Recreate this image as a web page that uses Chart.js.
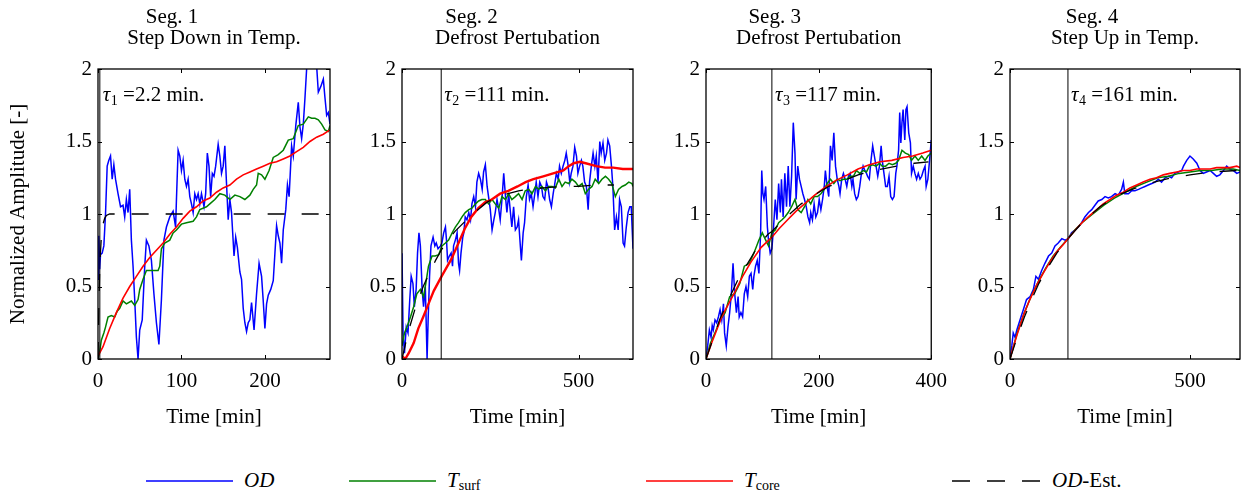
<!DOCTYPE html>
<html>
<head>
<meta charset="utf-8">
<script src="https://cdn.jsdelivr.net/npm/chart.js@4.4.0/dist/chart.umd.min.js"></script>
<style>
html,body{margin:0;padding:0;background:#fff;}
body{width:1247px;height:491px;position:relative;overflow:hidden;font-family:"Liberation Serif","Times New Roman",serif;color:#000;}
.pane{position:absolute;top:0;}
.pane canvas{display:block;}
.lg{position:absolute;top:468px;font-size:21px;line-height:24px;white-space:nowrap;}
.lg i{font-style:italic;}
.lg sub{font-size:14px;vertical-align:-3px;line-height:0;}
</style>
</head>
<body>
<div class="pane" id="p0"><canvas id="c0"></canvas></div>
<div class="pane" id="p1"><canvas id="c1"></canvas></div>
<div class="pane" id="p2"><canvas id="c2"></canvas></div>
<div class="pane" id="p3"><canvas id="c3"></canvas></div>

<svg width="1247" height="30" style="position:absolute;left:0;top:466px">
  <line x1="146" y1="15" x2="233" y2="15" stroke="#0000ff" stroke-width="1.5"/>
  <line x1="349" y1="15" x2="436" y2="15" stroke="#008000" stroke-width="1.5"/>
  <line x1="646" y1="15" x2="733" y2="15" stroke="#ff0000" stroke-width="1.5"/>
  <line x1="952" y1="15" x2="1040" y2="15" stroke="#000" stroke-width="1.3" stroke-dasharray="18 17"/>
</svg>
<div class="lg" style="left:244px"><i>OD</i></div>
<div class="lg" style="left:447px"><i>T</i><sub>surf</sub></div>
<div class="lg" style="left:744px"><i>T</i><sub>core</sub></div>
<div class="lg" style="left:1052px"><i>OD</i>-Est.</div>

<script>
// ---------------- DATA ----------------
// Segment 1 : Step Down in Temp.
const seg1_tOD = [0,1,2,3,5,7,9,11,13,15,17,19,21,24,27,30,32,34,36,38,40,42,44,46,48,50,53,56,58,61,64,67,70,73,76,79,82,86,90,93,94,96,98,100,102,104,106,108,110,112,114,116,118,120,122,124,127,129,131,133,135,137,139,141,144,146,148,150,152,154,156,158,160,163,165,167,170,172,174,176,178,180,182,184,187,190,193,196,198,200,202,204,207,210,212,214,216,218,220,222,225,227,229,232,234,237,240,242,244,246,248,250,252,256,260,262,264,267,270,272,274,276,278];
const seg1_OD = [0.55,0.85,0.62,0.72,0.73,0.78,1.0,1.33,1.37,1.40,1.24,1.34,1.24,1.14,1.05,1.06,0.98,1.10,1.01,1.17,0.82,0.64,0.41,0.15,0.0,0.2,0.27,0.64,0.82,0.78,0.68,0.45,0.25,0.10,0.41,0.82,0.91,0.98,1.02,0.91,1.10,1.44,1.40,1.30,1.37,1.24,1.19,1.24,1.12,1.07,1.01,1.14,1.10,1.14,1.07,1.14,1.05,1.14,1.42,1.33,1.12,1.28,1.26,1.33,1.48,1.40,1.28,1.33,1.47,1.21,0.96,1.10,1.01,0.71,0.84,0.77,0.60,0.55,0.35,0.25,0.19,0.25,0.27,0.39,0.20,0.45,0.66,0.57,0.40,0.21,0.38,0.44,0.48,0.54,0.73,0.92,0.85,0.80,0.66,0.89,1.03,1.20,1.12,1.47,1.40,1.61,1.77,1.60,1.52,1.62,1.80,2.0,2.05,2.08,2.04,2.02,1.84,1.88,1.93,1.80,1.68,1.70,1.62];
const seg1_tSurf = [0,2,4,7,9,12,16,20,23,26,30,34,40,44,48,50,54,58,66,72,74,76,80,86,90,94,100,106,114,118,122,130,134,140,146,152,158,164,170,176,182,186,190,192,196,200,205,210,216,222,228,234,240,246,252,256,260,264,268,272,276,278];
const seg1_Tsurf = [0,0.05,0.13,0.18,0.22,0.29,0.30,0.29,0.33,0.35,0.40,0.38,0.40,0.37,0.41,0.48,0.55,0.61,0.61,0.61,0.64,0.76,0.80,0.82,0.87,0.89,0.93,0.94,0.95,0.98,1.03,1.05,1.07,1.10,1.14,1.13,1.10,1.13,1.12,1.10,1.13,1.17,1.20,1.28,1.27,1.24,1.30,1.39,1.41,1.44,1.51,1.52,1.61,1.62,1.67,1.66,1.66,1.65,1.62,1.58,1.57,1.61];
const seg1_tCore = [0,6,14,22,30,38,46,54,62,70,78,86,94,102,110,118,126,134,142,150,158,166,174,182,190,198,206,214,222,230,238,246,254,262,270,278];
const seg1_Tcore = [0.02,0.085,0.21,0.32,0.42,0.50,0.57,0.64,0.70,0.75,0.80,0.86,0.91,0.97,1.02,1.05,1.09,1.11,1.15,1.18,1.20,1.24,1.27,1.29,1.31,1.33,1.35,1.36,1.38,1.40,1.43,1.46,1.50,1.53,1.55,1.58];
const seg1_tEst = [0,1,2,3,4,6,8,10,14,278];
const seg1_Est = [0,0.35,0.60,0.74,0.84,0.93,0.97,0.99,1.0,1.0];

// Segment 2 : Defrost Pertubation
const seg2_tOD = [0,3,7,12,17,22,26,31,35,40,44,48,52,57,61,66,71,74,78,82,88,93,97,102,109,113,118,123,126,129,134,139,143,146,151,156,160,163,167,172,175,179,184,189,194,198,203,208,212,217,222,227,231,236,241,245,250,255,260,264,269,274,278,283,288,293,297,302,307,311,316,321,326,330,335,338,343,347,352,357,361,366,371,376,380,385,390,395,399,404,409,413,418,423,428,432,437,442,446,451,456,461,465,470,475,479,484,489,494,498,503,508,512,517,522,527,531,536,541,546,550,555,560,564,569,574,579,583,588,593,597,602,607,612,616,621,626,630,635,640,645,649,654];
const seg2_OD = [0.73,0.18,0.04,0.22,0.18,0.41,0.57,0.52,0.36,0.48,0.73,0.87,0.78,0.48,0.36,0.50,0.0,0.27,0.57,0.78,0.84,0.78,0.80,0.76,0.78,0.80,0.87,0.91,0.82,0.68,0.71,0.73,0.64,0.78,0.82,0.87,0.66,0.61,0.73,0.84,0.87,0.98,0.96,1.01,0.96,1.07,1.12,1.05,1.22,1.28,1.24,1.17,1.29,1.34,1.19,1.12,1.03,0.89,0.96,1.01,1.10,1.03,0.96,1.10,1.28,1.12,1.01,1.14,1.01,0.91,1.05,0.89,0.91,0.96,0.78,0.68,0.87,0.94,1.12,1.20,1.10,1.14,1.05,1.14,1.22,1.12,1.22,1.19,1.12,1.10,1.22,1.19,1.10,1.05,1.14,1.20,1.28,1.24,1.33,1.28,1.33,1.37,1.42,1.34,1.22,1.28,1.33,1.46,1.40,1.28,1.33,1.37,1.33,1.22,1.19,1.03,1.22,1.33,1.42,1.33,1.40,1.22,1.50,1.42,1.49,1.37,1.42,1.51,1.47,1.33,1.19,0.89,0.98,0.89,1.10,1.05,0.80,0.78,0.91,1.01,1.05,1.05,0.76];
const seg2_tSurf = [0,7,14,24,33,42,52,61,66,75,85,94,104,113,123,132,142,151,160,170,179,189,198,208,217,226,236,245,255,264,274,283,293,302,311,321,330,340,349,359,368,378,387,396,406,415,425,434,444,453,462,472,481,491,500,510,519,528,538,547,557,566,576,585,594,604,613,623,632,642,651,654];
const seg2_Tsurf = [0.09,0.18,0.22,0.29,0.36,0.45,0.48,0.43,0.50,0.64,0.71,0.71,0.72,0.78,0.80,0.82,0.87,0.91,0.94,0.98,1.01,1.03,1.04,1.07,1.09,1.10,1.10,1.07,1.10,1.07,1.04,1.12,1.10,1.14,1.10,1.12,1.14,1.10,1.16,1.17,1.14,1.19,1.17,1.19,1.16,1.19,1.19,1.18,1.24,1.19,1.22,1.21,1.24,1.22,1.19,1.21,1.14,1.17,1.19,1.24,1.21,1.24,1.26,1.24,1.21,1.12,1.17,1.19,1.20,1.22,1.21,1.19];
const seg2_tCore = [0,9,19,33,46,60,75,90,112,126,140,160,178,196,216,235,254,278,301,327,350,372,400,428,457,472,486,504,520,550,575,598,625,654];
const seg2_Tcore = [0.02,0.0,0.04,0.11,0.21,0.29,0.38,0.47,0.57,0.63,0.69,0.80,0.90,0.98,1.04,1.08,1.10,1.14,1.16,1.19,1.22,1.24,1.26,1.28,1.30,1.33,1.35,1.36,1.35,1.33,1.32,1.32,1.31,1.31];
const seg2_tEst = [0,18,40,60,75,95,111,130,150,183,210,240,270,300,330,360,400,450,500,550,600];
const seg2_Est = [0,0.19,0.37,0.50,0.58,0.68,0.75,0.82,0.88,0.96,1.02,1.08,1.12,1.14,1.16,1.17,1.18,1.19,1.19,1.20,1.20];

// Segment 3 : Defrost Pertubation
const seg3_tOD = [0,3,6,9,11,13,16,19,22,25,28,31,33,36,39,42,45,48,51,54,57,59,62,65,68,71,74,77,80,83,85,88,91,94,97,99,101,103,106,109,111,114,117,120,123,126,129,132,134,137,140,143,146,149,152,155,158,160,163,166,169,172,175,178,181,184,186,189,192,195,198,201,204,207,210,212,215,218,221,224,227,230,233,236,238,241,244,247,250,253,256,259,261,264,267,270,273,276,279,282,285,287,290,293,296,299,302,305,308,311,313,316,319,322,325,328,331,334,337,339,342,344,346,348,350,353,355,357,360,363,365,368,371,374,377,380,383,386,389,391,394,397,400];
const seg3_OD = [0,0.09,0.20,0.15,0.23,0.20,0.27,0.25,0.29,0.34,0.27,0.38,0.18,0.09,0.22,0.32,0.45,0.66,0.45,0.32,0.43,0.29,0.32,0.29,0.45,0.50,0.43,0.57,0.59,0.48,0.57,0.64,0.68,0.59,0.87,1.30,1.14,1.10,1.19,0.91,0.82,0.73,0.76,0.91,1.10,0.96,1.21,1.01,1.24,0.98,1.28,1.05,1.33,1.05,1.26,1.63,1.42,1.10,1.33,1.24,1.19,1.14,1.10,1.05,0.98,0.94,1.01,0.96,1.07,0.98,1.01,1.10,1.03,1.10,1.19,1.30,1.19,1.12,1.47,1.37,1.56,1.33,1.24,1.19,1.14,1.24,1.28,1.24,1.19,1.26,1.28,1.19,1.24,1.14,1.10,1.12,1.19,1.28,1.33,1.30,1.28,1.26,1.24,1.37,1.47,1.40,1.33,1.26,1.33,1.47,1.37,1.28,1.19,1.19,1.26,1.12,1.10,1.12,1.28,1.33,1.44,1.70,1.49,1.63,1.72,1.51,1.72,1.74,1.56,1.49,1.28,1.33,1.28,1.24,1.28,1.24,1.26,1.30,1.33,1.19,1.24,1.37,1.51];
const seg3_tSurf = [0,8,16,25,34,42,51,60,68,77,85,94,100,106,111,117,123,129,135,140,146,152,158,163,169,175,181,186,192,198,204,210,215,221,227,233,238,244,250,256,262,267,273,279,285,290,296,302,308,313,319,325,331,337,342,348,354,360,365,371,377,383,389,394,400];
const seg3_Tsurf = [0,0.11,0.18,0.27,0.32,0.43,0.45,0.52,0.64,0.66,0.73,0.82,0.87,0.82,0.78,0.87,0.89,0.94,0.96,0.98,1.01,1.05,1.10,1.03,1.01,1.05,1.10,1.07,1.12,1.12,1.14,1.17,1.21,1.24,1.21,1.24,1.23,1.24,1.24,1.26,1.26,1.30,1.28,1.30,1.29,1.33,1.34,1.33,1.35,1.33,1.33,1.35,1.34,1.35,1.37,1.44,1.42,1.41,1.37,1.40,1.37,1.40,1.37,1.40,1.42];
const seg3_tCore = [0,10,20,28,40,51,65,80,98,117,130,145,160,175,193,210,230,251,270,290,309,330,350,367,385,400];
const seg3_Tcore = [0,0.11,0.21,0.29,0.38,0.46,0.57,0.67,0.77,0.84,0.90,0.96,1.02,1.07,1.13,1.18,1.23,1.27,1.31,1.34,1.36,1.37,1.39,1.40,1.42,1.44];
const seg3_tEst = [0,25,45,57,74,91,110,117,140,169,192,218,245,270,300,325,350,370,395];
const seg3_Est = [0,0.28,0.45,0.55,0.66,0.77,0.86,0.88,0.97,1.07,1.13,1.19,1.23,1.27,1.30,1.32,1.34,1.35,1.36];

// Segment 4 : Step Up in Temp.
const seg4_tOD = [0,5,9,14,19,28,37,46,56,65,72,79,88,97,107,116,125,134,144,153,162,171,181,190,199,208,218,227,236,245,255,264,273,282,292,301,310,315,319,329,338,347,357,366,375,384,394,403,412,421,431,440,449,458,468,477,482,491,500,509,519,528,537,546,556,565,574,583,593,602,611,620,630,639];
const seg4_OD = [0,0.09,0.18,0.15,0.20,0.27,0.34,0.41,0.43,0.48,0.57,0.55,0.61,0.66,0.71,0.73,0.78,0.80,0.83,0.82,0.83,0.87,0.89,0.91,0.94,0.98,1.01,1.03,1.06,1.09,1.10,1.12,1.11,1.12,1.14,1.13,1.17,1.22,1.14,1.14,1.16,1.16,1.17,1.18,1.19,1.20,1.21,1.22,1.24,1.22,1.25,1.26,1.25,1.28,1.29,1.30,1.33,1.37,1.40,1.38,1.35,1.30,1.28,1.29,1.30,1.28,1.26,1.27,1.30,1.33,1.31,1.30,1.28,1.29];
const seg4_tSurf = [0,20,40,60,80,100,120,140,161,180,200,230,260,290,320,350,380,410,440,470,500,530,560,590,620,639];
const seg4_Tsurf = [0,0.18,0.32,0.44,0.54,0.63,0.71,0.77,0.83,0.89,0.94,1.00,1.06,1.11,1.15,1.19,1.22,1.25,1.26,1.28,1.29,1.30,1.30,1.31,1.31,1.30];
const seg4_tCore = [0,10,20,37,55,74,92,111,130,148,161,185,204,222,241,259,278,296,315,333,352,370,389,407,426,444,463,481,500,519,537,556,574,593,611,630,639];
const seg4_Tcore = [0,0.09,0.17,0.30,0.41,0.51,0.59,0.67,0.74,0.79,0.83,0.90,0.95,0.99,1.03,1.07,1.10,1.13,1.15,1.18,1.20,1.22,1.24,1.25,1.27,1.28,1.29,1.30,1.30,1.31,1.31,1.31,1.32,1.32,1.32,1.33,1.32];
const seg4_tEst = [0,20,40,60,80,100,130,161,200,250,300,350,400,450,500,560,630];
const seg4_Est = [0,0.15,0.29,0.41,0.52,0.61,0.73,0.83,0.94,1.05,1.13,1.18,1.22,1.25,1.27,1.29,1.30];

// Time constants, axis ranges, ticks, titles
const tauValues = [2.2, 111, 117, 161];
const tauLabels = ['=2.2 min.', '=111 min.', '=117 min.', '=161 min.'];
const xMax = [278, 654, 400, 639];
const xTickValues = [[0,100,200],[0,500],[0,200,400],[0,500]];
const xTickLabels = [['0','100','200'],['0','500'],['0','200','400'],['0','500']];
const yTickValues = [0, 0.5, 1, 1.5, 2];
const yTickLabels = ['0', '0.5', '1', '1.5', '2'];
const segNames = ['Seg. 1', 'Seg. 2', 'Seg. 3', 'Seg. 4'];
const segTitles = ['Step Down in Temp.', 'Defrost Pertubation', 'Defrost Pertubation', 'Step Up in Temp.'];
const yAxisTitle = 'Normalized Amplitude [-]';
const xAxisTitle = 'Time [min]';

// ---------------- LAYOUT / STYLE ----------------
const plotLeft = [98, 402, 706, 1010];
const plotRight = [330, 633, 937, 1240];
const yAxisW = [98, 75, 75, 75];
const padRight = [20, 20, 20, 7];
const segShift = [-42, -46, -44, -33];
const CANVAS_H = 440, PLOT_TOP = 69, PLOT_BOTTOM = 359;
const FONT = '"Liberation Serif", "Times New Roman", serif';

const seriesByPanel = [
  [seg1_tOD, seg1_OD, seg1_tSurf, seg1_Tsurf, seg1_tCore, seg1_Tcore, seg1_tEst, seg1_Est],
  [seg2_tOD, seg2_OD, seg2_tSurf, seg2_Tsurf, seg2_tCore, seg2_Tcore, seg2_tEst, seg2_Est],
  [seg3_tOD, seg3_OD, seg3_tSurf, seg3_Tsurf, seg3_tCore, seg3_Tcore, seg3_tEst, seg3_Est],
  [seg4_tOD, seg4_OD, seg4_tSurf, seg4_Tsurf, seg4_tCore, seg4_Tcore, seg4_tEst, seg4_Est]
];

function zip(xs, ys) {
  const n = Math.min(xs.length, ys.length);
  const out = [];
  for (let i = 0; i < n; i++) out.push({x: xs[i], y: ys[i]});
  return out;
}

const decorPlugin = {
  id: 'segDecor',
  afterDatasetsDraw(chart, args, o) {
    const {ctx, chartArea: a, scales: {x, y}} = chart;
    ctx.save();
    ctx.strokeStyle = '#000';
    ctx.lineWidth = 1.3;
    ctx.strokeRect(a.left, a.top, a.right - a.left, a.bottom - a.top);
    ctx.lineWidth = 1;
    ctx.beginPath();
    x.ticks.forEach(t => {
      const p = Math.round(x.getPixelForValue(t.value)) + 0.5;
      ctx.moveTo(p, a.bottom); ctx.lineTo(p, a.bottom - 4);
      ctx.moveTo(p, a.top); ctx.lineTo(p, a.top + 4);
    });
    y.ticks.forEach(t => {
      const p = Math.round(y.getPixelForValue(t.value)) + 0.5;
      ctx.moveTo(a.left, p); ctx.lineTo(a.left + 4, p);
      ctx.moveTo(a.right, p); ctx.lineTo(a.right - 4, p);
    });
    ctx.stroke();
    // tau annotation
    let tx = x.getPixelForValue(o.tau) + 3;
    const base = a.top + 32;
    ctx.fillStyle = '#000';
    ctx.textAlign = 'left';
    ctx.textBaseline = 'alphabetic';
    ctx.font = 'italic 21px ' + FONT;
    ctx.fillText('\u03C4', tx, base);
    tx += ctx.measureText('\u03C4').width + 0.5;
    ctx.font = '14px ' + FONT;
    ctx.fillText(o.sub, tx, base + 4);
    tx += ctx.measureText(o.sub).width;
    ctx.font = '21px ' + FONT;
    ctx.fillText(' ' + o.label, tx, base);
    ctx.restore();
  },
  afterDraw(chart, args, o) {
    const {ctx, chartArea: a} = chart;
    const cx = (a.left + a.right) / 2;
    ctx.save();
    ctx.fillStyle = '#000';
    ctx.font = '21px ' + FONT;
    ctx.textAlign = 'center';
    ctx.textBaseline = 'alphabetic';
    ctx.fillText(o.seg, cx + o.shift, 23);
    ctx.fillText(o.title, cx, 43.5);
    ctx.restore();
  }
};

for (let i = 0; i < 4; i++) {
  const [tOD, OD, tS, TS, tC, TC, tE, E] = seriesByPanel[i];
  const w = yAxisW[i] + (plotRight[i] - plotLeft[i]) + padRight[i];
  const pane = document.getElementById('p' + i);
  pane.style.left = (plotLeft[i] - yAxisW[i]) + 'px';
  const cv = document.getElementById('c' + i);
  cv.width = w; cv.height = CANVAS_H;
  cv.style.width = w + 'px'; cv.style.height = CANVAS_H + 'px';

  new Chart(cv, {
    type: 'line',
    data: {
      datasets: [
        {label: 'tau', data: zip([tauValues[i], tauValues[i]], [0, 2]), borderColor: '#000', borderWidth: 1, order: 0},
        {label: 'OD-Est.', data: zip(tE, E), borderColor: '#000', borderWidth: 1.3, borderDash: [17, 17], order: 1},
        {label: 'Tcore', data: zip(tC, TC), borderColor: '#ff0000', borderWidth: i === 1 ? 2.4 : 1.6, order: 2},
        {label: 'Tsurf', data: zip(tS, TS), borderColor: '#008000', borderWidth: 1.5, order: 3},
        {label: 'OD', data: zip(tOD, OD), borderColor: '#0000ff', borderWidth: 1.5, order: 4}
      ]
    },
    options: {
      responsive: false,
      animation: false,
      devicePixelRatio: 1,
      parsing: true,
      elements: {point: {radius: 0, hoverRadius: 0}, line: {tension: 0, fill: false}},
      layout: {padding: {left: 0, right: padRight[i], top: PLOT_TOP, bottom: 0}},
      plugins: {
        legend: {display: false},
        title: {display: false},
        tooltip: {enabled: false},
        segDecor: {seg: segNames[i], title: segTitles[i], shift: segShift[i], tau: tauValues[i], sub: String(i + 1), label: tauLabels[i]}
      },
      scales: {
        x: {
          type: 'linear', min: 0, max: xMax[i],
          grid: {display: false, drawTicks: false},
          border: {display: false},
          afterBuildTicks: s => { s.ticks = xTickValues[i].map(v => ({value: v})); },
          afterFit: s => { s.height = CANVAS_H - PLOT_BOTTOM; },
          ticks: {
            autoSkip: false, maxRotation: 0, padding: 10, color: '#000',
            font: {family: FONT, size: 21},
            callback: (v, idx) => xTickLabels[i][idx]
          },
          title: {display: true, text: xAxisTitle, color: '#000', font: {family: FONT, size: 21}, padding: {top: 0, bottom: 10}}
        },
        y: {
          type: 'linear', min: 0, max: 2,
          grid: {display: false, drawTicks: false},
          border: {display: false},
          afterBuildTicks: s => { s.ticks = yTickValues.map(v => ({value: v})); },
          afterFit: s => { s.width = yAxisW[i]; },
          ticks: {
            autoSkip: false, padding: 6, color: '#000',
            font: {family: FONT, size: 21},
            callback: (v, idx) => yTickLabels[idx]
          },
          title: {display: i === 0, text: yAxisTitle, color: '#000', font: {family: FONT, size: 21}, padding: {top: 6, bottom: 0}}
        }
      }
    },
    plugins: [decorPlugin]
  });
}
</script>
</body>
</html>
